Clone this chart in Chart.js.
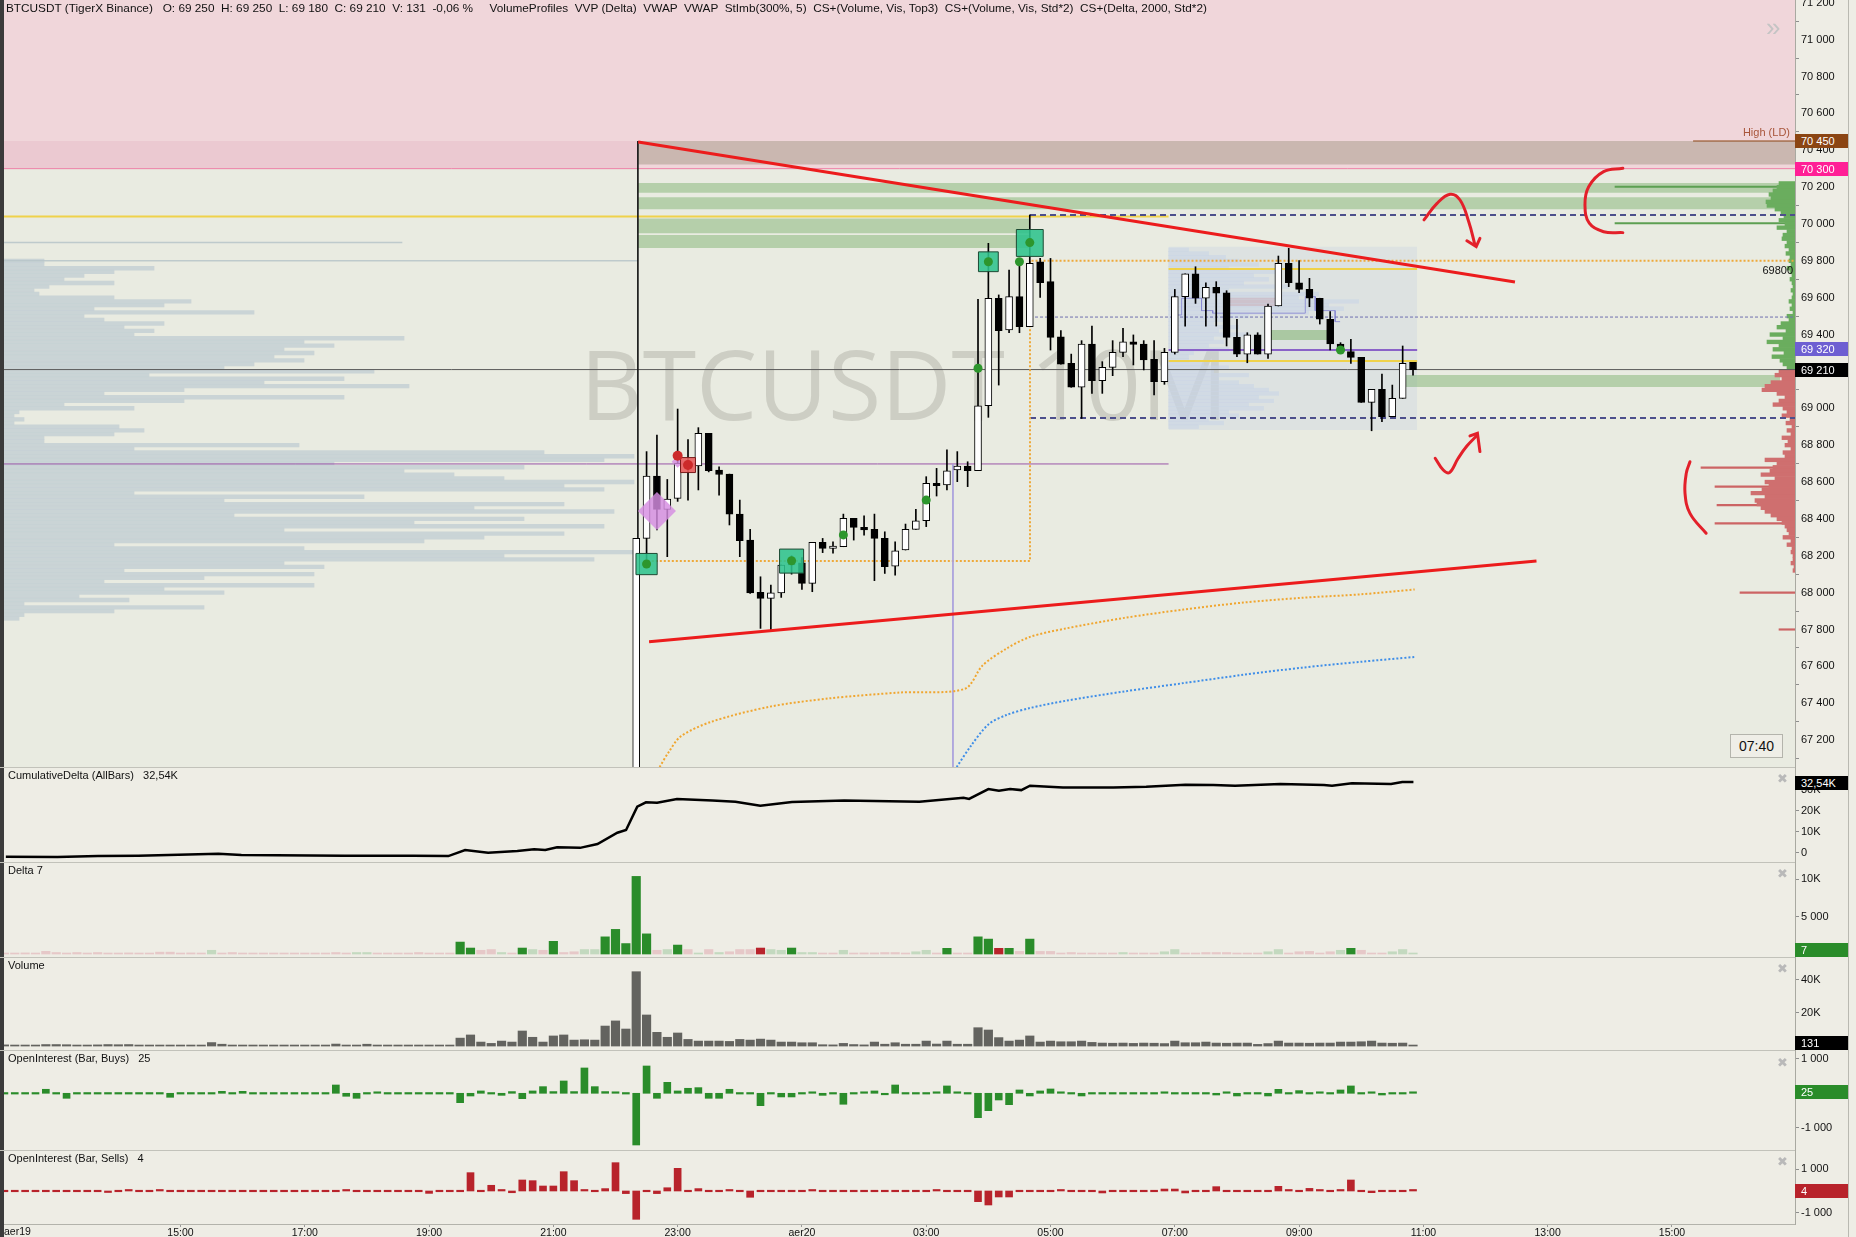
<!DOCTYPE html>
<html>
<head>
<meta charset="utf-8">
<title>BTCUSDT 10M</title>
<script src="https://cdn.jsdelivr.net/npm/chart.js@4.4.1/dist/chart.umd.min.js"></script>
<style>
  body { margin: 0; background: #eeede5; }
  #wrap { position: relative; width: 1856px; height: 1237px; overflow: hidden; background: #eeede5;
          font-family: "Liberation Sans", Arial, sans-serif; color: #111; }
  #wrap canvas { position: absolute; left: 4px; }
  .bg { position: absolute; left: 4px; width: 1791px; }
  .sep { position: absolute; left: 0; width: 1795px; height: 1px; background: #c2c2ba; }
  .txt { position: absolute; white-space: pre; font-size: 11px; line-height: 13px; }
  .tag { position: absolute; left: 1795px; width: 53px; height: 14px; line-height: 14px; font-size: 11px;
         color: #fff; padding-left: 6px; box-sizing: border-box; }
  .cls { position: absolute; left: 1777px; font-size: 13px; line-height: 13px; color: #b9b9b9; font-family: "DejaVu Sans", sans-serif; }
  #watermark { position: absolute; left: 580px; top: 334px; font-family: "Open Sans", sans-serif; font-size: 97px;
               line-height: 97px; color: #cdcec4; white-space: nowrap; }
</style>
</head>
<body>
<div id="wrap">
  <div class="bg" style="top:0;height:767px;background:#e9ebe1"></div>
  <div id="watermark">BTCUSDT 10M</div>
  <canvas id="main" width="1852" height="767" style="top:0"></canvas>
  <canvas id="cum" width="1852" height="95" style="top:767px"></canvas>
  <canvas id="delta" width="1852" height="95" style="top:862px"></canvas>
  <canvas id="vol" width="1852" height="93" style="top:957px"></canvas>
  <canvas id="oib" width="1852" height="100" style="top:1050px"></canvas>
  <canvas id="ois" width="1852" height="87" style="top:1150px"></canvas>

  <div style="position:absolute;left:0;top:0;width:4px;height:1237px;background:#3b3b3b"></div>
  <div style="position:absolute;left:1848px;top:0;width:1px;height:1237px;background:#b9b9b1"></div>
  <div class="sep" style="top:767px"></div>
  <div class="sep" style="top:862px"></div>
  <div class="sep" style="top:957px"></div>
  <div class="sep" style="top:1050px"></div>
  <div class="sep" style="top:1150px"></div>

  <div class="txt" style="left:6px;top:2px;font-size:11.8px">BTCUSDT (TigerX Binance)   O: 69 250  H: 69 250  L: 69 180  C: 69 210  V: 131  -0,06 %     VolumeProfiles  VVP (Delta)  VWAP  VWAP  StImb(300%, 5)  CS+(Volume, Vis, Top3)  CS+(Volume, Vis, Std*2)  CS+(Delta, 2000, Std*2)</div>
  <div class="txt" style="left:8px;top:769px">CumulativeDelta (AllBars)   32,54K</div>
  <div class="txt" style="left:8px;top:864px">Delta 7</div>
  <div class="txt" style="left:8px;top:959px">Volume</div>
  <div class="txt" style="left:8px;top:1052px">OpenInterest (Bar, Buys)   25</div>
  <div class="txt" style="left:8px;top:1152px">OpenInterest (Bar, Sells)   4</div>
  <div class="txt" style="left:4px;top:1225px;font-size:10.5px">aer19</div>

  <div class="cls" style="top:772px">✖</div>
  <div class="cls" style="top:867px">✖</div>
  <div class="cls" style="top:962px">✖</div>
  <div class="cls" style="top:1056px">✖</div>
  <div class="cls" style="top:1155px">✖</div>
  <div class="txt" style="left:1766px;top:12px;font-size:26px;line-height:30px;color:#c4c4c4">»</div>
  <div class="txt" style="left:1738px;top:126px;width:52px;text-align:right;color:#a8553a">High (LD)</div>
  <div class="txt" style="left:1740px;top:264px;width:53px;text-align:right">69800</div>
  <div class="txt" style="left:1730px;top:734px;width:51px;height:22px;line-height:22px;text-align:center;font-size:14px;border:1px solid #b4b4ac;background:#efeee7">07:40</div>
</div>

<script>
"use strict"

// ---- data ----------------------------------------------------------------
const startHour = 12 + 10 / 60;   // first 10-minute bar: aer19 12:10
const firstCandle = 61;           // 22:20, first candle inside the price range

const candleOpen = [66900, 68294, 68632, 68452, 68511, 68690, 68687, 68864, 68665, 68643,
    68426, 68285, 68001, 67969, 67999, 68150, 68162, 68050, 68273, 68240,
    68249, 68403, 68354, 68343, 68294, 68144, 68231, 68343, 68390, 68593,
    68584, 68665, 68687, 68661, 69014, 69597, 69425, 69606, 69443, 69795,
    69687, 69388, 69244, 69114, 69349, 69150, 69222, 69303, 69361, 69349,
    69265, 69144, 69303, 69606, 69729, 69597, 69656, 69627, 69385, 69294,
    69398, 69294, 69555, 69786, 69681, 69645, 69597, 69483, 69349, 69307,
    69276, 69032, 69103, 68954, 69054, 69250];
const candleHigh = [68294, 68765, 68855, 68614, 68996, 68830, 68895, 68864, 68683, 68643,
    68502, 68343, 68086, 68041, 68150, 68200, 68190, 68273, 68294, 68276,
    68426, 68403, 68416, 68426, 68330, 68276, 68372, 68452, 68629, 68674,
    68774, 68765, 68710, 69591, 69895, 69615, 69750, 69795, 70049, 69813,
    69813, 69421, 69294, 69367, 69446, 69253, 69367, 69434, 69398, 69367,
    69367, 69325, 69645, 69729, 69768, 69681, 69687, 69638, 69483, 69410,
    69410, 69566, 69826, 69868, 69801, 69705, 69597, 69524, 69356, 69374,
    69276, 69103, 69186, 69126, 69338, 69250];
const candleLow = [66800, 68180, 68340, 68195, 68495, 68502, 68557, 68655, 68529, 68367,
    68195, 67995, 67806, 67797, 67974, 68100, 68017, 68005, 68217, 68214,
    68249, 68285, 68312, 68065, 68104, 68095, 68231, 68343, 68358, 68524,
    68557, 68602, 68575, 68661, 68951, 69126, 69410, 69410, 69443, 69602,
    69316, 69240, 69114, 68945, 69081, 69081, 69177, 69280, 69235, 69208,
    69072, 69130, 69294, 69446, 69569, 69446, 69446, 69338, 69280, 69247,
    69294, 69271, 69555, 69660, 69627, 69551, 69457, 69316, 69307, 69244,
    69032, 68878, 68927, 68954, 69054, 69180];
const candleClose = [68294, 68632, 68452, 68508, 68701, 68705, 68864, 68661, 68641, 68426,
    68282, 67999, 67969, 67999, 68150, 68165, 68050, 68273, 68240, 68253,
    68403, 68354, 68340, 68294, 68141, 68227, 68343, 68390, 68593, 68580,
    68661, 68687, 68661, 69014, 69597, 69421, 69606, 69443, 69786, 69681,
    69385, 69240, 69114, 69349, 69150, 69222, 69303, 69361, 69347, 69262,
    69144, 69303, 69606, 69729, 69597, 69656, 69624, 69385, 69294, 69398,
    69294, 69555, 69786, 69681, 69645, 69597, 69483, 69349, 69307, 69276,
    69032, 69103, 68954, 69054, 69244, 69210];

const volume = [700, 600, 500, 600, 900, 900, 800, 600, 500, 700,
    900, 800, 900, 600, 500, 500, 600, 500, 500, 600,
    2100, 1100, 600, 500, 500, 600, 500, 500, 500, 600,
    500, 600, 1200, 600, 500, 1100, 600, 500, 500, 500,
    600, 500, 500, 600, 4800, 6700, 2400, 1600, 3000, 2400,
    9100, 5300, 2400, 6100, 6700, 3600, 3800, 3600, 12100, 15200,
    10300, 45000, 18800, 8300, 5300, 7900, 4000, 3000, 3000, 3000,
    2800, 4000, 3600, 4200, 3600, 2400, 2400, 2000, 2000, 800,
    700, 1600, 900, 700, 2400, 1100, 2000, 1100, 1100, 3000,
    1200, 3000, 1100, 1100, 11100, 9700, 5100, 3000, 3600, 6100,
    2400, 3000, 2600, 2600, 3000, 2200, 1800, 1700, 1800, 1600,
    1800, 1700, 1500, 3000, 2000, 2000, 2400, 1800, 1700, 1800,
    1800, 1000, 1500, 3000, 1800, 1800, 1700, 1800, 1800, 2400,
    2400, 2600, 3000, 1800, 1700, 1800, 131];

const delta = [-100, -100, -150, -100, -360, -200, -100, -200, -100, -200,
    -100, -100, -150, -100, -100, -250, -250, -100, -150, -100,
    500, -100, -200, -100, -100, -100, -100, -100, -100, -100,
    -100, -100, -200, -100, 200, 200, -100, -100, -100, -100,
    -200, -100, -100, -100, 1600, 800, -500, -600, 200, -100,
    800, 600, -500, 1700, -200, -300, 600, 600, 2300, 3300,
    1400, 10400, 2700, -500, 600, 1200, -600, 100, -600, 200,
    -300, -600, -600, -800, 600, 500, 800, 200, 200, -100,
    -100, 500, -100, -150, -150, -200, -200, -100, 300, 500,
    -100, 760, -100, -100, 2300, 2000, -760, 760, -350, 2000,
    -350, -350, -100, -200, -100, -100, -100, -100, 200, -100,
    -100, -100, 300, 600, -100, -100, -200, -200, -200, -100,
    -100, -100, 300, 600, -100, -300, -350, -100, -300, 500,
    760, -500, -100, -100, 300, 600, 7];

const oiBuys = [0, 0, 0, 0, 117, 0, -146, 0, 0, 0,
    0, 0, 0, 0, 0, 0, -117, 0, 0, 0,
    0, 58, 0, 58, 0, 0, 0, 0, 0, 0,
    0, 0, 242, -87, -146, 0, 40, 0, 0, 0,
    0, 0, 0, 0, -274, -79, 68, 0, -60, 50,
    -156, 68, 194, 50, 359, 50, 738, 194, 50, 40,
    0, -1507, 796, -146, 320, 68, 146, 165, -146, -146,
    117, 0, 0, -360, 0, -107, -107, 0, 40, -60,
    0, -320, 0, 40, 68, -40, 242, 0, 0, 0,
    30, 214, 30, 0, -711, -507, -195, -332, 97, -78,
    68, 126, 30, 0, -78, 0, 0, 0, 0, 0,
    0, 0, 30, 0, 0, 0, 0, -50, 30, -78,
    0, 0, -78, 116, 0, 78, 0, 30, 0, 97,
    214, 0, 30, -50, 0, 0, 25];

const oiSells = [0, 0, 0, 0, 0, 0, 0, 0, 0, 0,
    -60, 0, 60, 0, 0, 60, 0, 0, 0, 0,
    0, 0, 0, 0, 0, 0, 0, 0, 0, 0,
    0, 0, 0, 20, 0, 0, 0, 0, 0, 0,
    0, -110, 0, 0, 0, 845, 0, 263, 60, -80,
    507, 476, 230, 230, 890, 476, 60, 0, 110, 1305,
    -120, -1305, 0, -120, 150, 1045, 0, 110, 0, 0,
    60, 0, -290, 0, 0, 0, 0, 0, 20, 0,
    0, 0, 0, 0, 0, 0, 0, 0, 0, 0,
    60, 0, 0, 0, -491, -645, -276, -276, 0, 0,
    0, 0, 60, 0, 0, 0, -90, 0, 0, 0,
    0, 0, 90, 90, -90, 0, 0, 200, 0, 0,
    0, 0, 0, 215, 60, 0, 120, 40, 0, 40,
    507, 0, -77, 0, 0, 0, 4];

const cumHours = [12.19, 13.02, 13.67, 14.32, 15.61, 15.98, 17.64, 18.74, 19.31, 19.58,
    19.95, 20.42, 20.69, 20.87, 21.06, 21.43, 21.71, 22.03, 22.17, 22.35,
    22.49, 22.67, 22.99, 23.56, 23.93, 24.33, 24.84, 25.68, 26.89, 27.60,
    27.69, 28.00, 28.17, 28.35, 28.53, 28.67, 29.20, 30.01, 30.54, 31.17,
    31.62, 31.97, 32.70, 33.40, 33.53, 33.85, 34.48, 34.66, 34.84];
const cumValues = [-1900, -2100, -1600, -1500, -500, -1100, -1400, -1400, -1600, 1300,
    0, 800, 1600, 1300, 2600, 2300, 4100, 9500, 10800, 21900,
    24000, 23800, 25600, 24800, 24300, 22400, 24100, 24800, 24300, 26200,
    25600, 30300, 29500, 30300, 29800, 31900, 31000, 31000, 31400, 32400,
    32200, 31900, 32700, 32200, 31900, 33100, 32700, 33600, 33600];

// left session profile, rows of 20 USD from 69 800 down
const leftProfileTop = 69800;
const leftProfile = [40, 40, 150, 110, 80, 60, 110, 45, 30, 35,
    110, 187, 160, 90, 250, 80, 100, 160, 120, 150,
    130, 400, 300, 330, 280, 310, 270, 300, 250, 220,
    370, 145, 340, 260, 405, 180, 100, 340, 180, 60,
    130, 15, 10, 20, 10, 115, 140, 110, 40, 40,
    295, 130, 540, 630, 600, 330, 520, 400, 450, 500,
    630, 560, 600, 130, 360, 220, 560, 470, 610, 230,
    520, 410, 600, 280, 560, 480, 420, 110, 300, 630,
    500, 590, 280, 320, 120, 310, 200, 100, 310, 160,
    220, 75, 125, 20, 200, 110, 20, 15];
// 07:00 - 11:00 box profile, rows of 20 USD from 69 860 down
const boxProfileTop = 69860;
const boxProfile = [20, 40, 57, 70, 90, 60, 110, 85, 100, 75,
    120, 60, 150, 130, 190, 160, 175, 140, 80, 60,
    45, 70, 50, 80, 45, 55, 40, 60, 25, 20,
    20, 35, 60, 45, 80, 50, 70, 85, 100, 110,
    90, 105, 80, 95, 60, 70, 40, 55, 30];
// right edge delta profile, rows of 20 USD
const buyProfileTop = 70220;
const buyProfile = [16, 18, 22, 26, 24, 29, 28, 20, 14, 11,
    16, 10, 18, 8, 12, 13, 8, 10, 6, 9,
    5, 6, 4, 8, 5, 3, 5, 3, 2, 4,
    2, 3, 6, 3, 5, 2, 8, 6, 14, 18,
    9, 25, 12, 28, 16, 22, 11, 23, 15, 12, 8];
const sellProfileTop = 69200;
const sellProfile = [16, 20, 13, 24, 30, 33, 18, 10, 16, 22,
    12, 8, 13, 5, 9, 3, 8, 4, 13, 7,
    10, 4, 12, 10, 30, 18, 22, 25, 34, 20,
    30, 26, 33, 44, 30, 40, 38, 34, 30, 24,
    18, 13, 10, 8, 6, 12, 4, 8, 3, 4,
    2, 2, 4, 1, 2];
const profileStep = 20;
const longBuyPrices = [70202, 70004];
const longBuyValues = [180, 180];
const longSellPrices = [68678, 68575, 68475, 68376, 68000, 67800];
const longSellValues = [94, 80, 78, 80, 55, 16];

const squareBars = [62, 76, 95, 99];
const squarePrices = [68155, 68171, 69795, 69897];
const redSquareBars = [66];
const redSquarePrices = [68692];
const diamondBars = [63, 65];
const diamondPrices = [68443, 68710];
const greenDotBars = [62, 76, 81, 89, 94, 95, 98, 99, 129];
const greenDotPrices = [68155, 68173, 68313, 68502, 69217, 69795, 69795, 69899, 69316];
const redDotBars = [65, 66];
const redDotPrices = [68743, 68692];

const vwapHours = [22.71, 22.86, 23.05, 23.53, 24.48, 25.43, 26.57, 27.62, 27.91, 28.29,
    28.67, 29.24, 30.19, 31.14, 32.10, 33.05, 34.00, 34.86];
const vwapValues = [67054, 67137, 67220, 67298, 67381, 67426, 67458, 67478, 67606, 67696,
    67760, 67805, 67863, 67908, 67946, 67972, 67991, 68017];
const vwap2Hours = [27.49, 27.72, 28.00, 28.29, 28.67, 29.24, 30.19, 31.14, 32.10, 33.05, 34.00, 34.86];
const vwap2Values = [67054, 67169, 67285, 67336, 67374, 67413, 67464, 67509, 67554, 67593, 67625, 67651];
const boxVwapHours = [30.95, 31.11, 31.11, 31.43, 31.43, 31.61, 31.61, 33.10, 33.10, 33.26, 33.26, 33.58, 33.58, 33.66];
const boxVwapValues = [69506, 69506, 69597, 69597, 69530, 69530, 69516, 69516, 69606, 69606, 69530, 69530, 69470, 69470];

const trendUpper = [[22.365, 70445], [36.474, 69685]];
const trendLower = [[22.54, 67734], [36.82, 68171]];

const drawArrowDown = [[35.01, 70022], [35.22, 70112], [35.43, 70161], [35.59, 70130], [35.73, 70012], [35.83, 69886]];
const drawArrowDownHead = [[35.70, 69909], [35.85, 69877], [35.91, 69922]];
const drawBracketTop = [[38.21, 70302], [37.90, 70284], [37.66, 70202], [37.60, 70103], [37.67, 70004], [37.90, 69958], [38.21, 69953]];
const drawArrowUp = [[35.19, 68729], [35.32, 68665], [35.42, 68651], [35.56, 68729], [35.70, 68795], [35.87, 68855]];
const drawArrowUpHead = [[35.75, 68850], [35.87, 68864], [35.91, 68765]];
const drawBracketLow = [[39.29, 68710], [39.23, 68647], [39.21, 68539], [39.29, 68430], [39.55, 68322]];

const priceTicks = [67200, 67400, 67600, 67800, 68000, 68200, 68400, 68600, 68800, 69000,
    69200, 69400, 69600, 69800, 70000, 70200, 70400, 70600, 70800, 71000, 71200];
const timeTicks = [15, 17, 19, 21, 23, 25, 27, 29, 31, 33, 35, 37, 39];
const timeLabels = ["15:00", "17:00", "19:00", "21:00", "23:00", "aer20", "03:00", "05:00", "07:00", "09:00", "11:00", "13:00", "15:00"];

// ---- chart helpers ---------------------------------------------------------
Chart.defaults.font.family = '"Liberation Sans", Arial, sans-serif';
Chart.defaults.font.size = 11;
Chart.defaults.color = "#111";

const xMin = 12.16, xMax = 40.98;
const hourOf = i => startHour + i / 6;
const spaced = v => String(Math.abs(v)).replace(/\B(?=(\d{3})+(?!\d))/g, " ");
const shortNum = v => Math.abs(v) >= 10000 ? (v / 1000) + "K" : (v < 0 ? "-" : "") + spaced(v);

const xAxis = () => ({ type: "linear", min: xMin, max: xMax, display: false, offset: false, grid: { offset: false } });

const yAxis = (min, max, ticks, fmt) => ({
    type: "linear", position: "right", min: min, max: max, offset: false,
    afterBuildTicks: s => { s.ticks = ticks.map(v => ({ value: v })); },
    afterFit: s => { s.width = 61; s.paddingTop = 0; s.paddingBottom = 0; },
    ticks: { callback: fmt, padding: 2, autoSkip: false, color: "#111", font: { size: 11 } },
    grid: { drawOnChartArea: false, drawTicks: true, tickLength: 4, color: "#8e8e8e" },
    border: { display: true, color: "#a9a9a1" }
});

const baseOptions = scales => ({
    responsive: false, animation: false, devicePixelRatio: 1, events: [],
    layout: { padding: 0, autoPadding: false },
    plugins: { legend: { display: false }, tooltip: { enabled: false } },
    scales: scales
});

const seg = (points, color, width, dash, order, extra) => Object.assign({
    type: "line", data: points.map(p => ({ x: p[0], y: p[1] })),
    borderColor: color, borderWidth: width, borderDash: dash || [], pointRadius: 0, fill: false, order: order
}, extra || {});

const zone = (x0, x1, top, bottom, color, order) => ({
    type: "line", data: [{ x: x0, y: top }, { x: x1, y: top }],
    borderWidth: 0, borderColor: "transparent", backgroundColor: color,
    fill: { value: bottom }, pointRadius: 0, order: order
});

const hBars = (values, top, axis, color, thickness, order) => ({
    type: "bar", indexAxis: "y", xAxisID: axis, yAxisID: "y", grouped: false,
    data: values.map((v, k) => ({ x: v, y: top - k * profileStep })),
    backgroundColor: color, barThickness: thickness, borderWidth: 0, order: order
});

const marks = (bars, prices, style, radius, fill, border, order) => ({
    type: "scatter", data: bars.map((b, k) => ({ x: hourOf(b), y: prices[k] })),
    pointStyle: style, pointRadius: radius, backgroundColor: fill,
    borderColor: border || fill, borderWidth: border ? 1 : 0, order: order
});

// ---- main price panel ------------------------------------------------------
const candleX = candleOpen.map((o, k) => hourOf(firstCandle + k));
const sessionStart = 22.36, profileEnd = 28.67, lateStart = 30.9, lateEnd = 34.9;
const plotWidth = 1791, unitsPerHour = plotWidth / (xMax - xMin);

const mainChart = new Chart(document.getElementById("main"), {
    type: "bar",
    data: {
        datasets: [
            zone(xMin, xMax, 71215, 70300, "#f0d6da", 30),
            zone(xMin, sessionStart, 70450, 70300, "rgba(226,178,192,0.35)", 29),
            zone(sessionStart, xMax, 70450, 70323, "rgba(150,140,118,0.42)", 29),
            zone(lateStart, lateEnd, 69877, 68882, "rgba(195,208,226,0.32)", 28),
            zone(sessionStart, xMax, 70222, 70170, "rgba(110,170,95,0.42)", 27),
            zone(sessionStart, xMax, 70145, 70080, "rgba(110,170,95,0.42)", 27),
            zone(sessionStart, profileEnd, 70030, 69950, "rgba(110,170,95,0.42)", 27),
            zone(sessionStart, profileEnd, 69940, 69870, "rgba(110,170,95,0.42)", 27),
            zone(34.67, 40.74, 69180, 69115, "rgba(110,170,95,0.42)", 27),
            zone(31.84, 32.66, 69600, 69555, "rgba(205,120,120,0.55)", 27),
            zone(32.53, 33.46, 69425, 69370, "rgba(120,175,100,0.5)", 27),

            hBars(leftProfile, leftProfileTop, "xl", "rgba(196,208,212,0.85)", 3.7, 26),
            hBars(boxProfile, boxProfileTop, "xb", "rgba(200,212,228,0.6)", 3.7, 26),
            hBars(buyProfile, buyProfileTop, "xr", "#6aad5e", 3.7, 26),
            hBars(sellProfile, sellProfileTop, "xr", "#cf6f6f", 3.7, 26),
            Object.assign(hBars(longBuyValues, 0, "xr", "#5d9f52", 1.5, 26),
                { data: longBuyValues.map((v, k) => ({ x: v, y: longBuyPrices[k] })) }),
            Object.assign(hBars(longSellValues, 0, "xr", "#cc6464", 1.5, 26),
                { data: longSellValues.map((v, k) => ({ x: v, y: longSellPrices[k] })) }),

            seg([[xMin, 69801], [sessionStart, 69801]], "rgba(185,198,202,0.9)", 1.5, null, 20),
            seg([[xMin, 69899], [18.57, 69899]], "rgba(185,198,202,0.9)", 1.5, null, 20),
            seg([[xMin, 70040], [lateStart, 70040]], "#efd24a", 2, null, 20),
            seg([[lateStart, 69756], [lateEnd, 69756]], "#efd24a", 2, null, 20),
            seg([[lateStart, 69257], [lateEnd, 69257]], "#efd24a", 2, null, 20),
            seg([[xMin, 68698], [lateStart, 68698]], "#9a55a8", 1, null, 20),
            seg([[lateStart, 69316], [lateEnd, 69316]], "#8a62c8", 2, null, 20),
            seg(boxVwapHours.map((h, k) => [h, boxVwapValues[k]]), "rgba(135,135,210,0.85)", 1, null, 20),
            seg([[xMin, 70300], [xMax, 70300]], "#ee7fa6", 1, null, 20),
            seg([[39.34, 70450], [xMax, 70450]], "#8b4513", 1, null, 20),
            seg([[xMin, 69210], [xMax, 69210]], "#5a5a5a", 1, null, 19),
            seg([[profileEnd, 70049], [xMax, 70049]], "#4d4f8c", 2, [6, 4], 19),
            seg([[profileEnd, 68948], [xMax, 68948]], "#4d4f8c", 2, [6, 4], 19),
            seg([[profileEnd, 69495], [xMax, 69495]], "#6f70b0", 1, [3, 2], 19),
            seg([[22.52, 68171], [profileEnd, 68171], [profileEnd, 69800], [xMax, 69800]], "#eea93a", 2, [2, 2], 18),
            seg([[sessionStart, 70450], [sessionStart, 67054]], "#1a1a1a", 1, null, 17),
            seg([[27.43, 68698], [27.43, 67054]], "#aaa0dc", 1, null, 17),
            seg(vwapHours.map((h, k) => [h, vwapValues[k]]), "#f0a630", 2, [2, 2], 16, { tension: 0.3 }),
            seg(vwap2Hours.map((h, k) => [h, vwap2Values[k]]), "#3f8ee8", 2, [2, 2], 16, { tension: 0.3 }),

            {
                type: "bar", grouped: false, order: 8, barThickness: 1, backgroundColor: "#000",
                data: candleX.map((x, k) => ({ x: x, y: [candleLow[k], candleHigh[k]] }))
            },
            {
                type: "bar", grouped: false, order: 7, barThickness: 7, minBarLength: 1,
                borderWidth: 1, borderColor: "#000", borderSkipped: false,
                backgroundColor: candleOpen.map((o, k) => candleClose[k] >= o ? "#ffffff" : "#000000"),
                data: candleX.map((x, k) => ({ x: x, y: [candleOpen[k], candleClose[k]] }))
            },

            marks(squareBars, squarePrices, "rect", [15, 17, 14, 19], "rgba(45,195,140,0.88)", "#1d4a34", 5),
            marks(redSquareBars, redSquarePrices, "rect", 10.6, "rgba(232,95,95,0.9)", "#7a1c1c", 5),
            marks(diamondBars, diamondPrices, "rectRot", [19, 6], "rgba(214,140,226,0.82)", null, 5),
            marks(greenDotBars, greenDotPrices, "circle", 4.5, "#2d962d", null, 4),
            marks(redDotBars, redDotPrices, "circle", 5, "#cc2a2a", null, 4),

            seg(trendUpper, "#ec1c1c", 3, null, 3),
            seg(trendLower, "#ec1c1c", 3, null, 3),
            seg(drawArrowDown, "#e3202a", 3, null, 1, { tension: 0.4, borderCapStyle: "round" }),
            seg(drawArrowDownHead, "#e3202a", 3, null, 1, { borderCapStyle: "round" }),
            seg(drawBracketTop, "#e3202a", 3, null, 1, { tension: 0.4, borderCapStyle: "round" }),
            seg(drawArrowUp, "#e3202a", 3, null, 1, { tension: 0.4, borderCapStyle: "round" }),
            seg(drawArrowUpHead, "#e3202a", 3, null, 1, { borderCapStyle: "round" }),
            seg(drawBracketLow, "#e3202a", 3, null, 1, { tension: 0.4, borderCapStyle: "round" })
        ]
    },
    options: baseOptions({
        x: xAxis(),
        y: yAxis(67054, 71215, priceTicks, v => spaced(v)),
        xl: { type: "linear", axis: "x", min: 0, max: plotWidth, display: false, offset: false },
        xb: { type: "linear", axis: "x", min: (xMin - lateStart) * unitsPerHour, max: (xMax - lateStart) * unitsPerHour,
              display: false, offset: false },
        xr: { type: "linear", axis: "x", min: 0, max: plotWidth, reverse: true, display: false, offset: false }
    })
});

// ---- lower panels ----------------------------------------------------------
const barX = volume.map((v, i) => hourOf(i));

const cumChart = new Chart(document.getElementById("cum"), {
    type: "line",
    data: { datasets: [seg(cumHours.map((h, k) => [h, cumValues[k]]), "#000", 2.5, null, 1)] },
    options: baseOptions({ x: xAxis(), y: yAxis(-4430, 40800, [0, 10000, 20000, 30000], shortNum) })
});

const deltaChart = new Chart(document.getElementById("delta"), {
    type: "bar",
    data: {
        datasets: [{
            grouped: false, barThickness: 8.5, minBarLength: 1,
            data: delta.map((d, i) => ({ x: barX[i], y: Math.abs(d) })),
            backgroundColor: delta.map(d => d >= 0 ? (d >= 700 ? "#2a8c2a" : "#c3d9bf") : (d <= -700 ? "#b8232b" : "#e6c8c8"))
        }]
    },
    options: baseOptions({ x: xAxis(), y: yAxis(-400, 12330, [5000, 10000], shortNum) })
});

const volChart = new Chart(document.getElementById("vol"), {
    type: "bar",
    data: {
        datasets: [{
            grouped: false, barThickness: 8.5, minBarLength: 1, backgroundColor: "#63635f",
            data: volume.map((v, i) => ({ x: barX[i], y: v }))
        }]
    },
    options: baseOptions({ x: xAxis(), y: yAxis(-2400, 53900, [20000, 40000], shortNum) })
});

const oibChart = new Chart(document.getElementById("oib"), {
    type: "bar",
    data: {
        datasets: [{
            grouped: false, barThickness: 7, minBarLength: 1.5, backgroundColor: "#2a8c2a",
            data: oiBuys.map((v, i) => ({ x: barX[i], y: v }))
        }]
    },
    options: baseOptions({ x: xAxis(), y: yAxis(-1653, 1262, [-1000, 1000], shortNum) })
});

const oisAxis = {
    type: "linear", min: xMin, max: xMax, offset: false, position: "bottom",
    afterBuildTicks: s => { s.ticks = timeTicks.map(v => ({ value: v })); },
    afterFit: s => { s.height = 13; s.paddingLeft = 0; s.paddingRight = 0; },
    ticks: { callback: (v, i) => timeLabels[i], autoSkip: false, maxRotation: 0, padding: 0, font: { size: 10.5 }, color: "#111" },
    grid: { drawOnChartArea: false, tickLength: 3, color: "#9a9a9a", offset: false },
    border: { color: "#b3b3ab" }
};

const oisChart = new Chart(document.getElementById("ois"), {
    type: "bar",
    data: {
        datasets: [{
            grouped: false, barThickness: 7, minBarLength: 1.5, backgroundColor: "#b8232b",
            data: oiSells.map((v, i) => ({ x: barX[i], y: v }))
        }]
    },
    options: baseOptions({ x: oisAxis, y: yAxis(-1521, 1889, [-1000, 1000], shortNum) })
});

// ---- value tags on the right axis -----------------------------------------
const wrap = document.getElementById("wrap");
const addTag = (chart, panelTop, value, text, bg) => {
    const area = chart.chartArea;
    let y = chart.scales.y.getPixelForValue(value);
    y = Math.max(area.top + 7, Math.min(area.bottom - 7, y));
    const tag = document.createElement("div");
    tag.className = "tag";
    tag.style.top = (panelTop + y - 7) + "px";
    tag.style.background = bg;
    tag.textContent = text;
    wrap.appendChild(tag);
};

addTag(mainChart, 0, 70450, "70 450", "#8b4513");
addTag(mainChart, 0, 70300, "70 300", "#ff1f96");
addTag(mainChart, 0, 69320, "69 320", "#6e5fd2");
addTag(mainChart, 0, 69210, "69 210", "#000");
addTag(cumChart, 767, 33200, "32,54K", "#000");
addTag(deltaChart, 862, 7, "7", "#2a8c2a");
addTag(volChart, 957, 131, "131", "#000");
addTag(oibChart, 1050, 25, "25", "#2a8c2a");
addTag(oisChart, 1150, 4, "4", "#b8232b");
</script>
</body>
</html>
